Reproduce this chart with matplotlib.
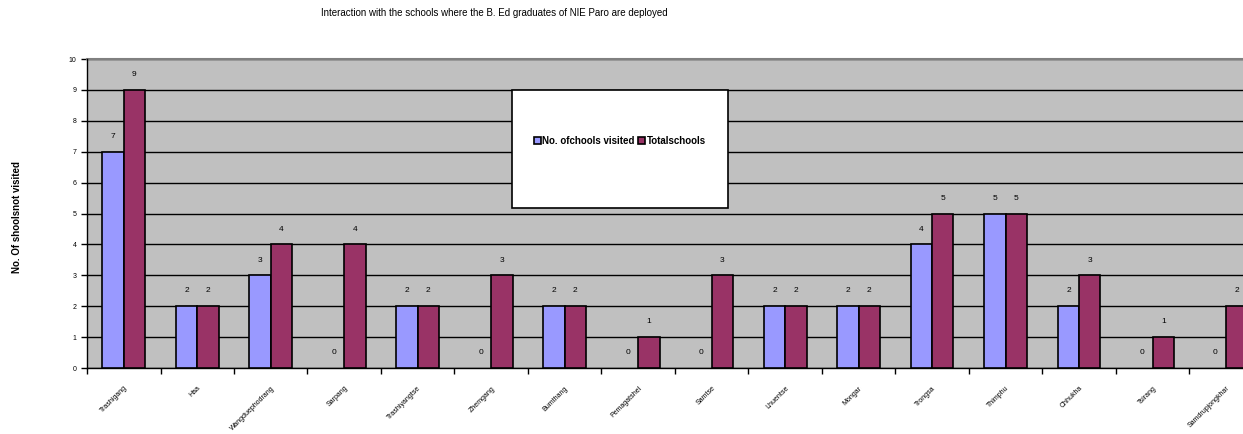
import numpy as np
import matplotlib.pyplot as plt
from matplotlib.patches import Rectangle

plt.rcParams['font.family'] = ['Liberation Sans', 'DejaVu Sans']

districts = ["Trashigang", "Haa", "Wangduephodrang", "Sarpang", "Trashiyangtse",
             "Zhemgang", "Bumthang", "Pemagatshel", "Samtse", "Lhuentse",
             "Mongar", "Trongsa", "Thimphu", "Chhukha", "Tsirang", "Samdrupjongkhar"]
visited = [7, 2, 3, 0, 2, 0, 2, 0, 0, 2, 2, 4, 5, 2, 0, 0]
total = [9, 2, 4, 4, 2, 3, 2, 1, 3, 2, 2, 5, 5, 3, 1, 2]

fig = plt.figure(figsize=(12.43, 4.34), dpi=100)
ax = fig.add_axes([0.07, 0.152, 0.946, 0.712])
ax.set_facecolor("#c0c0c0")

x = np.arange(len(districts))
w = 0.29
b1 = ax.bar(x - w/2, visited, w, color="#9999ff", edgecolor="black", lw=1.2, zorder=3,
            label="No. ofchools visited")
b2 = ax.bar(x + w/2, total, w, color="#993366", edgecolor="black", lw=1.2, zorder=3,
            label="Totalschools")
for bars, vals in ((b1, visited), (b2, total)):
    for r, v in zip(bars, vals):
        if v == 0:
            r.set_linewidth(0)  # empty bar: no outline
        ax.annotate(str(v), (r.get_x() + r.get_width()/2, v), xytext=(0, 11),
                    textcoords="offset points", ha="center", va="center", fontsize=6)

ax.set_xlim(-0.5, len(districts) - 0.5)
ax.set_ylim(0, 10)
ax.set_yticks(range(11))
ax.yaxis.grid(True, color="black", lw=1, zorder=1)
ax.tick_params(axis="y", labelsize=5, length=4, width=1)
ax.set_xticks(np.arange(len(districts) + 1) - 0.5)
ax.set_xticklabels([])
ax.set_xticks(x, minor=True)
ax.set_xticklabels(districts, minor=True, rotation=45, ha="right", va="top",
                   rotation_mode="anchor", fontsize=5)
ax.tick_params(axis="x", which="minor", length=0, pad=12)
ax.tick_params(axis="x", which="major", length=4, width=1)
for s in ["top", "right"]:
    ax.spines[s].set_visible(False)
ax.spines["left"].set_linewidth(1)
ax.spines["bottom"].set_linewidth(1)
ax.plot([0, 1], [1, 1], transform=ax.transAxes, color="#808080", lw=1.5, zorder=2, clip_on=False)

ax.add_patch(Rectangle((0.361, 0.518), 0.184, 0.382, transform=ax.transAxes,
                       facecolor="white", edgecolor="black", lw=1.2, zorder=5))
leg = ax.legend(loc="center", bbox_to_anchor=(0.453, 0.735), ncol=2, frameon=False,
                fontsize=7, handlelength=0.7, handleheight=0.7, handletextpad=0.2,
                columnspacing=0.3, borderaxespad=0)
leg.set_zorder(6)
for t in leg.get_texts():
    t.set_fontweight("bold")

fig.text(0.398, 0.97, "Interaction with the schools where the B. Ed graduates of NIE Paro are deployed",
         ha="center", va="center", fontsize=7)
fig.text(0.014, 0.5, "No. Of shoolsnot visited", rotation=90, ha="center", va="center",
         fontsize=7, fontweight="bold")

fig.savefig("out.png", dpi=100)
